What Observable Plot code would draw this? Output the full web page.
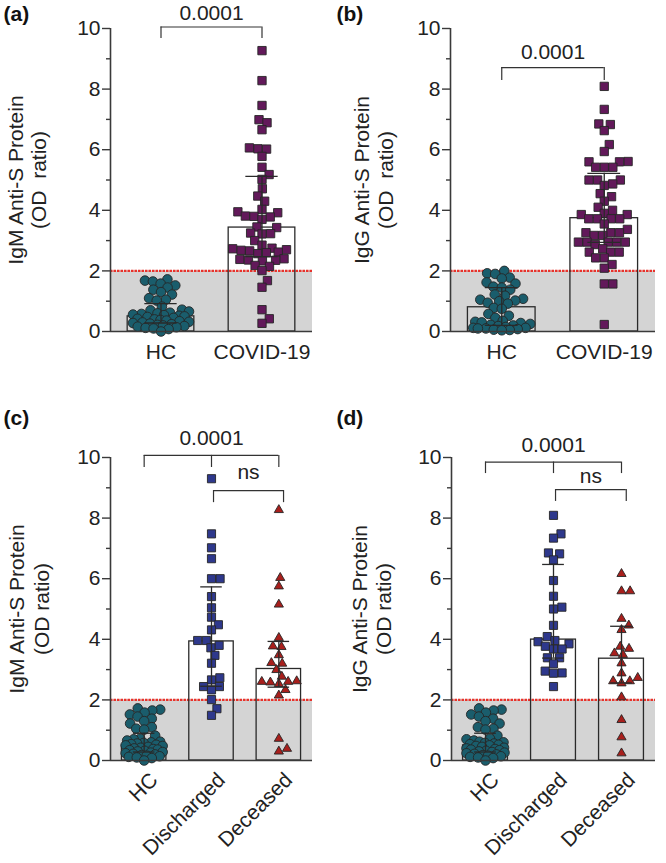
<!DOCTYPE html>
<html><head><meta charset="utf-8">
<script src="https://cdn.jsdelivr.net/npm/d3@7"></script>
<script src="https://cdn.jsdelivr.net/npm/@observablehq/plot@0.6"></script>
<style>
body{margin:0;background:#fff;}
#root{position:relative;width:666px;height:863px;}
#root > svg{position:absolute;}
</style></head><body><div id="root"></div>
<script>
// ---------------- DATA ----------------
const groups2 = ["HC", "COVID-19"];
const groups3 = ["HC", "Discharged", "Deceased"];

const hcIgM = [1.72, 1.68, 1.65, 1.58, 1.52, 1.45, 1.38, 1.30, 1.22, 1.10, 1.05, 1.02, 0.82, 0.72, 0.70, 0.66, 0.62, 0.60, 0.58, 0.56, 0.54, 0.52, 0.50, 0.48, 0.45, 0.42, 0.40, 0.38, 0.36, 0.34, 0.32, 0.30, 0.28, 0.26, 0.24, 0.22, 0.20, 0.18, 0.16, 0.14, 0.12, 0.10, 0.08, 0.00];
const hcIgG = [2.00, 1.92, 1.90, 1.78, 1.75, 1.62, 1.58, 1.48, 1.45, 1.38, 1.22, 1.18, 1.08, 1.05, 1.02, 1.00, 0.95, 0.92, 0.78, 0.75, 0.58, 0.52, 0.45, 0.35, 0.32, 0.30, 0.28, 0.25, 0.22, 0.20, 0.18, 0.15, 0.12, 0.12, 0.10, 0.10, 0.08, 0.06, 0.05, 0.04];
const covidIgM = [9.27, 8.28, 7.46, 6.99, 6.89, 6.66, 6.06, 6.03, 6.02, 5.78, 5.42, 5.18, 5.02, 4.71, 4.47, 4.30, 4.03, 3.95, 3.92, 3.81, 3.80, 3.78, 3.70, 3.45, 3.43, 3.25, 3.23, 3.22, 3.00, 2.85, 2.75, 2.73, 2.70, 2.68, 2.66, 2.62, 2.60, 2.57, 2.40, 2.38, 2.36, 2.35, 2.33, 2.18, 2.15, 2.01, 1.68, 1.46, 0.72, 0.42, 0.27];
const covidIgG = [8.09, 7.33, 6.85, 6.83, 6.63, 6.17, 5.94, 5.61, 5.60, 5.60, 5.42, 5.42, 5.42, 5.00, 5.00, 5.00, 4.87, 4.82, 4.55, 4.45, 4.30, 4.10, 4.00, 3.90, 3.86, 3.86, 3.72, 3.72, 3.72, 3.72, 3.55, 3.37, 3.26, 3.26, 3.26, 3.17, 3.17, 2.95, 2.95, 2.95, 2.95, 2.95, 2.87, 2.73, 2.62, 2.62, 2.62, 2.43, 2.43, 2.21, 2.09, 1.57, 1.57, 0.23];
const dischargedIgM = [9.30, 7.48, 7.02, 6.66, 6.00, 6.00, 5.41, 5.04, 4.73, 4.48, 4.31, 3.96, 3.96, 3.80, 3.72, 3.47, 3.21, 2.73, 2.66, 2.44, 2.44, 2.33, 2.01, 1.71, 1.49];
const deceasedIgM = [8.27, 6.03, 5.75, 5.15, 4.05, 3.77, 3.75, 3.48, 3.22, 3.20, 2.99, 2.77, 2.62, 2.60, 2.60, 2.58, 2.53, 2.33, 2.15, 0.72, 0.39, 0.30];
const dischargedIgG = [8.09, 7.48, 7.34, 6.85, 6.82, 6.62, 5.94, 5.42, 5.06, 5.00, 4.46, 4.09, 3.96, 3.92, 3.85, 3.77, 3.68, 3.68, 3.39, 3.39, 3.19, 2.95, 2.89, 2.88, 2.44];
const deceasedIgG = [6.16, 5.59, 5.59, 4.68, 4.46, 4.31, 3.76, 3.69, 3.54, 3.49, 3.21, 2.88, 2.73, 2.62, 2.62, 2.55, 2.09, 1.34, 0.77, 0.24];

// bar heights and error-bar limits (lower, upper) per group
const barA = [0.50, 3.43], loA = [0.28, 2.47], hiA = [0.92, 5.12];
const barB = [0.80, 3.74], loB = [0.20, 2.94], hiB = [1.45, 5.22];
const barC = [0.50, 3.93, 3.02], loC = [0.28, 2.45, 2.42], hiC = [0.90, 5.73, 3.93];
const barD = [0.50, 3.99, 3.36], loD = [0.28, 3.38, 2.56], hiD = [0.90, 6.47, 4.43];

const yTicks = [0, 2, 4, 6, 8, 10];
const yMinorTicks = [1, 3, 5, 7, 9];
const cutoff = 2;
const pLabel = "0.0001", nsLabel = "ns";

// ---------------- STYLE ----------------
const FONT = "'Liberation Sans', Arial, Helvetica, sans-serif";
const FS = 21;
const styleOf = {
  "HC": {symbol: "circle", fill: "#1a5d6c", r: 4.8, diam: 8},
  "COVID-19": {symbol: "square", fill: "#62195a", r: 4.7, diam: 8.6},
  "Discharged": {symbol: "square", fill: "#2e388c", r: 4.6, diam: 8.6},
  "Deceased": {symbol: "triangle", fill: "#a81f1c", r: 3.4, diam: 8.6}
};

function swarm(vals, diam, maxHalf, pxu) {
  const order = d3.range(vals.length).sort((a, b) => vals[a] - vals[b]);
  const placed = [], out = new Array(vals.length);
  for (const k of order) {
    const y = vals[k] * pxu;
    const near = placed.filter(p => Math.abs(p.y - y) < diam);
    const cands = [0];
    for (const p of near) {
      const dx = Math.sqrt(diam * diam - (p.y - y) ** 2);
      cands.push(p.x + dx, p.x - dx);
    }
    cands.sort((a, b) => Math.abs(a) - Math.abs(b));
    let best = null;
    for (const c of cands) {
      if (Math.abs(c) > maxHalf + 1e-6) continue;
      if (near.every(p => (p.x - c) ** 2 + (p.y - y) ** 2 >= diam * diam - 1e-6)) { best = c; break; }
    }
    if (best === null) {
      let bs = -Infinity;
      for (let c = 0; c <= maxHalf; c += 0.5) {
        for (const cc of [c, -c]) {
          const s = d3.min(near, p => (p.x - cc) ** 2 + (p.y - y) ** 2);
          if (s > bs + 1e-9) { bs = s; best = cc; }
        }
      }
    }
    placed.push({x: best, y});
    out[k] = best;
  }
  return out;
}

function panel(cfg) {
  const n = cfg.groups.length;
  const band = (cfg.width - cfg.ml - cfg.mr) / n;
  const pxu = (cfg.height - cfg.mt - cfg.mb) / 10;
  const stats = cfg.groups.map((name, i) => ({i, name, bar: cfg.bar[i], lo: cfg.lo[i], hi: cfg.hi[i]}));
  const dotMarks = cfg.series.map((vals, gi) => {
    const st = styleOf[cfg.groups[gi]];
    const offs = swarm(vals, st.diam, band * cfg.spread[gi], pxu);
    const pts = vals.map((v, k) => ({x: gi + offs[k] / band, v}));
    return Plot.dot(pts, {x: "x", y: "v", symbol: st.symbol, fill: st.fill, r: st.r, stroke: "#262626", strokeWidth: 0.9});
  });
  const bracketMarks = [];
  for (const b of cfg.brackets) {
    const xs = b.ticks;
    bracketMarks.push(Plot.ruleY([b.y], {x1: d3.min(xs), x2: d3.max(xs), stroke: "#333", strokeWidth: 1.2}));
    bracketMarks.push(Plot.ruleX(xs, {x: d => d, y1: b.y, y2: b.y - b.drop, stroke: "#333", strokeWidth: 1.2}));
    bracketMarks.push(Plot.text([b.label], {x: b.lx, y: b.ly, text: d => d, fill: "#222", lineAnchor: "middle", fontSize: FS}));
  }
  const xLabels = cfg.rotate
    ? Plot.text(stats, {x: "i", text: "name", frameAnchor: "bottom", rotate: -45, textAnchor: "end", lineAnchor: "middle", dx: 10, dy: 16, fill: "#222", fontSize: FS})
    : Plot.text(stats, {x: "i", text: "name", frameAnchor: "bottom", lineAnchor: "middle", dy: 21, fill: "#222", fontSize: FS});
  const svg = Plot.plot({
    width: cfg.width, height: cfg.height,
    marginLeft: cfg.ml, marginRight: cfg.mr, marginTop: cfg.mt, marginBottom: cfg.mb,
    x: {domain: [-0.5, n - 0.5], axis: null},
    y: {domain: [0, 10], axis: null, label: null},
    style: {fontFamily: FONT, fontSize: FS + "px", color: "#222", background: "transparent", overflow: "visible"},
    marks: [
      Plot.rect([cutoff], {x1: -0.5, x2: n - 0.5, y1: 0, y2: d => d, fill: "#d4d4d4"}),
      Plot.ruleY([cutoff], {x1: -0.5, x2: n - 0.5, stroke: "#e8322b", strokeWidth: 2.2, strokeDasharray: "2.5,1"}),
      Plot.rect(stats, {x1: d => d.i - 0.33, x2: d => d.i + 0.33, y1: 0, y2: "bar", fill: "none", stroke: "#2a2a2a", strokeWidth: 1.3}),
      ...dotMarks,
      Plot.ruleX(stats, {x: "i", y1: "lo", y2: "hi", stroke: "#2a2a2a", strokeWidth: 1.3}),
      Plot.ruleY(stats, {y: "hi", x1: d => d.i - 0.16, x2: d => d.i + 0.16, stroke: "#2a2a2a", strokeWidth: 1.3}),
      Plot.ruleY(stats, {y: "lo", x1: d => d.i - 0.16, x2: d => d.i + 0.16, stroke: "#2a2a2a", strokeWidth: 1.3}),
      Plot.ruleX([-0.5], {x: d => d, y1: 0, y2: 10, stroke: "#3a3a3a", strokeWidth: 1.6}),
      Plot.ruleY([0], {y: d => d, x1: -0.5, x2: n - 0.5, stroke: "#3a3a3a", strokeWidth: 1.6}),
      Plot.axisY({ticks: yTicks, tickSize: 8, tickPadding: 2, label: null, stroke: "#3a3a3a", strokeWidth: 1.4, fill: "#222", fontSize: FS}),
      Plot.axisY({ticks: yMinorTicks, tickSize: 4, tickFormat: () => "", label: null, stroke: "#3a3a3a", strokeWidth: 1.4}),
      ...bracketMarks,
      xLabels,
      Plot.text([cfg.ytitle], {frameAnchor: "left", text: d => d, rotate: -90, dx: cfg.ytdx, textAnchor: "middle", lineAnchor: "middle", lineHeight: cfg.ylh, fill: "#222", fontSize: FS}),
      Plot.text([cfg.letter], {frameAnchor: "top-left", text: d => d, dx: cfg.ldx, dy: cfg.ldy, textAnchor: "start", lineAnchor: "middle", fontWeight: "bold", fill: "#111", fontSize: FS})
    ]
  });
  svg.style.left = cfg.left + "px";
  svg.style.top = cfg.top + "px";
  return svg;
}

const root = document.getElementById("root");
const panels = [
  {letter: "(a)", left: 0, top: 0, width: 333, height: 400, ml: 110, mr: 21, mt: 28, mb: 69,
   groups: groups2, series: [hcIgM, covidIgM], bar: barA, lo: loA, hi: hiA, spread: [0.28, 0.30],
   ytitle: "IgM Anti-S Protein\n(OD\u00a0 ratio)", ytdx: -83.5, ylh: 1.1, ldx: -107, ldy: -14, rotate: false,
   brackets: [{ticks: [0, 1], y: 10.05, drop: 0.38, label: pLabel, lx: 0.5, ly: 10.5}]},
  {letter: "(b)", left: 333, top: 0, width: 333, height: 400, ml: 117, mr: 11, mt: 28, mb: 69,
   groups: groups2, series: [hcIgG, covidIgG], bar: barB, lo: loB, hi: hiB, spread: [0.28, 0.30],
   ytitle: "IgG Anti-S Protein\n(OD\u00a0 ratio)", ytdx: -77.5, ylh: 1.15, ldx: -114, ldy: -14, rotate: false,
   brackets: [{ticks: [0, 1], y: 8.71, drop: 0.43, label: pLabel, lx: 0.5, ly: 9.2}]},
  {letter: "(c)", left: 0, top: 400, width: 333, height: 463, ml: 110, mr: 21, mt: 57, mb: 103,
   groups: groups3, series: [hcIgM, dischargedIgM, deceasedIgM], bar: barC, lo: loC, hi: hiC, spread: [0.28, 0.30, 0.30],
   ytitle: "IgM Anti-S Protein\n(OD ratio)", ytdx: -82, ylh: 1.2, ldx: -107, ldy: -39, rotate: true,
   brackets: [{ticks: [0, 1, 2], y: 10.07, drop: 0.4, label: pLabel, lx: 1, ly: 10.63},
              {ticks: [1.03, 2.07], y: 8.91, drop: 0.4, label: nsLabel, lx: 1.55, ly: 9.5}]},
  {letter: "(d)", left: 333, top: 400, width: 333, height: 463, ml: 118, mr: 11, mt: 57, mb: 103,
   groups: groups3, series: [hcIgM, dischargedIgG, deceasedIgG], bar: barD, lo: loD, hi: hiD, spread: [0.28, 0.30, 0.30],
   ytitle: "IgG Anti-S Protein\n(OD ratio)", ytdx: -80.5, ylh: 1.15, ldx: -115, ldy: -39, rotate: true,
   brackets: [{ticks: [0, 1, 2], y: 9.85, drop: 0.38, label: pLabel, lx: 1, ly: 10.4},
              {ticks: [1.03, 2.07], y: 8.94, drop: 0.39, label: nsLabel, lx: 1.55, ly: 9.37}]}
];
for (const p of panels) root.appendChild(panel(p));
</script>
</body></html>
